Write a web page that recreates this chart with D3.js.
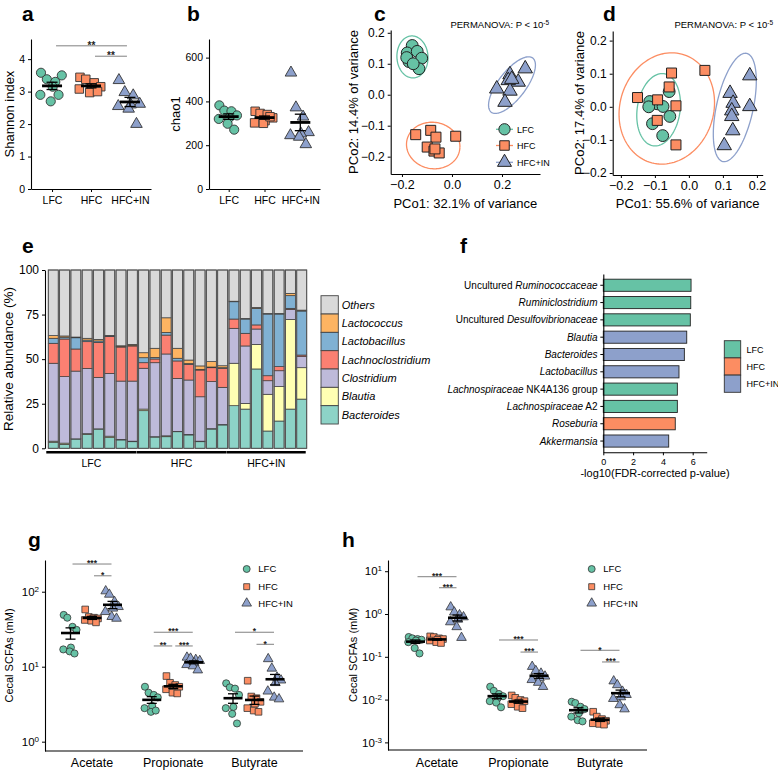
<!DOCTYPE html>
<html>
<head>
<meta charset="utf-8">
<script src="https://cdn.jsdelivr.net/npm/d3@7"></script>
<style>
  body { margin: 0; background: #fff; }
  svg text { font-family: "Liberation Sans", Arial, Helvetica, sans-serif; }
</style>
</head>
<body>
<svg id="fig" width="778" height="771" xmlns="http://www.w3.org/2000/svg"></svg>
<script>
// ================= DATA =================
const groups = ["LFC", "HFC", "HFC+IN"];
const groupColors = ["#66c2a5", "#fc8d62", "#8da0cb"];

// a: Shannon index
const shannonLFC   = [3.58, 3.38, 3.30, 3.50, 3.15, 2.90, 2.70, 2.90];
const shannonHFC   = [3.44, 3.38, 3.27, 3.15, 3.12, 3.08, 2.97, 3.00];
const shannonHFCIN = [3.35, 2.98, 2.88, 2.62, 2.60, 2.55, 2.47, 2.00];
const shannonTicks = [0, 1, 2, 3, 4];
const shannonSig = [{from: 0, to: 2, y: 4.41, label: "**"}, {from: 1, to: 2, y: 4.09, label: "**"}];

// b: chao1
const chao1LFC   = [382, 358, 355, 336, 325, 320, 298, 271];
const chao1HFC   = [355, 345, 340, 325, 312, 302, 300, 330];
const chao1HFCIN = [531, 372, 330, 259, 253, 245, 238, 204];
const chao1Ticks = [0, 200, 400, 600];

// c: PCoA (PCo1, PCo2)
const pcoaC_LFC   = [[-0.159, 0.159], [-0.179, 0.135], [-0.139, 0.140], [-0.172, 0.107], [-0.121, 0.118], [-0.132, 0.084], [-0.181, 0.120], [-0.155, 0.100]];
const pcoaC_HFC   = [[-0.145, -0.129], [-0.085, -0.115], [-0.064, -0.137], [0.015, -0.134], [-0.099, -0.169], [-0.072, -0.182], [-0.051, -0.188], [-0.068, -0.175]];
const pcoaC_HFCIN = [[0.232, 0.065], [0.293, 0.084], [0.265, 0.041], [0.225, 0.046], [0.179, 0.019], [0.232, 0.012], [0.212, -0.024], [0.239, 0.050]];
// ellipses: [centre x, centre y, semi-axis a, semi-axis b, angle deg]
const ellipseC = [[-0.158, 0.122, 0.068, 0.062, 100], [-0.075, -0.164, 0.107, 0.075, -4], [0.240, 0.031, 0.121, 0.050, 44]];

// d: PCoA
const pcoaD_LFC   = [[-0.115, 0.016], [-0.058, 0.046], [-0.093, 0.009], [-0.076, 0.001], [-0.107, -0.051], [-0.056, -0.029], [-0.077, -0.087], [-0.118, 0.000]];
const pcoaD_HFC   = [[-0.051, 0.102], [0.047, 0.110], [-0.151, 0.028], [-0.092, 0.021], [-0.058, 0.060], [-0.038, 0.003], [-0.093, -0.041], [-0.038, -0.115]];
const pcoaD_HFCIN = [[0.179, 0.094], [0.179, 0.001], [0.121, 0.041], [0.130, 0.011], [0.126, -0.012], [0.126, -0.029], [0.129, -0.072], [0.104, -0.117]];
const ellipseD = [[-0.089, -0.009, 0.110, 0.063, 82], [-0.065, -0.005, 0.170, 0.138, 75], [0.135, -0.002, 0.167, 0.054, 78]];
const pcoaTicksC_x = [-0.2, 0.0, 0.2];
const pcoaTicks = [-0.2, -0.1, 0.0, 0.1, 0.2];

// e: relative abundance (%) per sample
const eGenera = ["Bacteroides", "Blautia", "Clostridium", "Lachnoclostridium", "Lactobacillus", "Lactococcus", "Others"];
const eColors = ["#8dd3c7", "#ffffb3", "#bebada", "#fb8072", "#80b1d3", "#fdb462", "#d9d9d9"];
const eSampleGroup = ["LFC","LFC","LFC","LFC","LFC","LFC","LFC","LFC",
                      "HFC","HFC","HFC","HFC","HFC","HFC","HFC","HFC",
                      "HFC+IN","HFC+IN","HFC+IN","HFC+IN","HFC+IN","HFC+IN","HFC+IN"];
const eBacteroides       = [3.4, 2.2, 5.2, 7.8, 10.8, 6.0, 4.7, 3.7,  21.1, 6.3, 6.5, 9.3, 7.5, 3.7, 10.8, 13.1,  23.9, 22.0, 44.5, 9.7, 15.3, 22.0, 27.6];
const eBlautia           = [0.6, 0.7, 0.1, 0.4, 0.1, 0.8, 0.3, 0.3,  0.9, 0.2, 0.5, 0.2, 0.3, 0.3, 0.2, 0.2,  23.8, 3.2, 13.8, 20.6, 19.3, 50.3, 17.6];
const eClostridium       = [43.7, 37.3, 38.0, 36.6, 28.9, 35.2, 32.7, 33.7,  22.9, 41.5, 45.9, 29.7, 30.5, 24.9, 26.4, 20.9,  19.6, 32.2, 8.6, 7.6, 8.9, 5.6, 6.2];
const eLachnoclostridium = [11.2, 21.1, 12.4, 15.0, 19.6, 20.8, 19.1, 19.7,  3.1, 2.1, 10.6, 9.8, 8.8, 15.0, 7.8, 10.7,  5.2, 7.1, 2.3, 2.8, 2.3, 0.6, 0.9];
const eLactobacillus     = [2.8, 1.0, 6.3, 0.9, 0.8, 0.2, 0.2, 0.2,  2.8, 0.9, 1.5, 1.5, 0.4, 0.4, 0.4, 0.3,  9.7, 8.0, 9.3, 34.6, 29.5, 7.1, 24.7];
const eLactococcus       = [1.5, 0.7, 0.4, 1.0, 0.9, 0.3, 0.5, 0.7,  2.8, 5.1, 8.2, 5.6, 2.0, 1.9, 3.0, 1.1,  0.3, 0.3, 0.5, 0.3, 0.3, 1.3, 0.5];
const eOthers            = [36.8, 37.0, 37.6, 38.3, 38.9, 36.7, 42.5, 41.7,  46.4, 43.9, 26.8, 43.9, 50.5, 53.8, 51.4, 53.7,  17.5, 27.2, 21.0, 24.4, 24.4, 13.1, 22.5];
const eTicks = [0, 25, 50, 75, 100];

// f: LEfSe-like bars
const fLabels = [
  [["Uncultured ", false], ["Ruminococcaceae", true]],
  [["Ruminiclostridium", true]],
  [["Uncultured ", false], ["Desulfovibrionaceae", true]],
  [["Blautia", true]],
  [["Bacteroides", true]],
  [["Lactobacillus", true]],
  [["Lachnospiraceae", true], [" NK4A136 group", false]],
  [["Lachnospiraceae", true], [" A2", false]],
  [["Roseburia", true]],
  [["Akkermansia", true]]
];
const fValues = [5.89, 5.87, 5.84, 5.60, 5.44, 5.08, 4.97, 4.97, 4.83, 4.39];
const fGroup = ["LFC", "LFC", "LFC", "HFC+IN", "HFC+IN", "HFC+IN", "LFC", "LFC", "HFC", "HFC+IN"];
const fTicks = [0, 2, 4, 6];

// g/h: SCFAs
const scfaCats = ["Acetate", "Propionate", "Butyrate"];
const gLFC = [[49, 45, 34, 31, 18, 17, 16, 15], [5.4, 4.5, 4.2, 3.9, 3.0, 2.8, 2.5, 2.6], [6.0, 5.3, 5.1, 4.2, 2.9, 2.8, 2.35, 1.75]];
const gHFC = [[58, 46, 45, 44, 43, 42, 41, 39], [7.5, 6.1, 5.7, 5.4, 5.2, 5.0, 4.5, 4.4], [6.5, 4.0, 3.8, 3.4, 3.2, 2.8, 2.6, 2.5]];
const gHFCIN = [[102, 92, 73.6, 63, 60, 54, 46.4, 44], [13.3, 12.9, 12.4, 12.0, 11.2, 10.6, 10.2, 9.0], [12.7, 9.5, 7.2, 6.6, 6.1, 4.7, 3.9, 3.7]];
const gTicks = [1, 10, 100];
const gSig = [
  {cat: 0, from: 0, to: 2, y: 234, label: "***"}, {cat: 0, from: 1, to: 2, y: 163, label: "*"},
  {cat: 1, from: 0, to: 2, y: 28.8, label: "***"}, {cat: 1, from: 0, to: 1, y: 18.9, label: "**"}, {cat: 1, from: 1, to: 2, y: 18.9, label: "***"},
  {cat: 2, from: 0, to: 2, y: 28.8, label: "*"}, {cat: 2, from: 1, to: 2, y: 19.9, label: "*"}
];
const hLFC = [[0.29, 0.27, 0.26, 0.25, 0.24, 0.22, 0.16, 0.12], [0.020, 0.016, 0.0135, 0.012, 0.0105, 0.0092, 0.0085, 0.0066], [0.0089, 0.0083, 0.0068, 0.006, 0.0048, 0.004, 0.0033, 0.0031]];
const hHFC = [[0.30, 0.29, 0.27, 0.26, 0.25, 0.24, 0.22, 0.21], [0.0125, 0.011, 0.0098, 0.0092, 0.0085, 0.0078, 0.0068, 0.0063], [0.0052, 0.0040, 0.0035, 0.0032, 0.0031, 0.0028, 0.0027, 0.0026]];
const hHFCIN = [[1.45, 1.1, 0.95, 0.85, 0.75, 0.65, 0.5, 0.28], [0.059, 0.047, 0.041, 0.035, 0.032, 0.029, 0.025, 0.020], [0.027, 0.022, 0.0155, 0.013, 0.0115, 0.0105, 0.0075, 0.006]];
const hTicks = [0.001, 0.01, 0.1, 1, 10];
const hSig = [
  {cat: 0, from: 0, to: 2, y: 7.44, label: "***"}, {cat: 0, from: 1, to: 2, y: 4.11, label: "***"},
  {cat: 1, from: 0, to: 2, y: 0.247, label: "***"}, {cat: 1, from: 1, to: 2, y: 0.129, label: "***"},
  {cat: 2, from: 0, to: 2, y: 0.142, label: "*"}, {cat: 2, from: 1, to: 2, y: 0.0757, label: "***"}
];

// fixed horizontal jitter pattern (fraction of half-width)
const jitter = [-0.85, -0.4, 0.25, 0.75, 0.05, -0.9, -0.1, 0.5];

// ================= DRAW =================
const FONT = '"Liberation Sans", Arial, Helvetica, sans-serif';
const svg = d3.select("#fig");
svg.append("rect").attr("width", 778).attr("height", 771).attr("fill", "#fff");
const shapes = [d3.symbolCircle, d3.symbolSquare, d3.symbolTriangle];

function styleAxis(sel, fs) {
  sel.attr("font-family", FONT).attr("font-size", fs);
  sel.select(".domain").attr("stroke", "#000").attr("stroke-width", 1.1);
  sel.selectAll(".tick line").attr("stroke", "#000").attr("stroke-width", 1);
  sel.selectAll(".tick text").attr("fill", "#000");
}
function sym(parent, gi, size, x, y, stroke, sw) {
  parent.append("path")
    .attr("d", d3.symbol().type(shapes[gi]).size(size)())
    .attr("transform", `translate(${x},${y})`)
    .attr("fill", groupColors[gi]).attr("stroke", stroke || "#333").attr("stroke-width", sw || 0.9);
}
function drawMeanSem(cx, y, v, halfMean, halfCap, meanW) {
  const m = d3.mean(v), se = d3.deviation(v) / Math.sqrt(v.length);
  svg.append("line").attr("x1", cx).attr("x2", cx).attr("y1", y(m - se)).attr("y2", y(m + se)).attr("stroke", "#000").attr("stroke-width", 1.3);
  [m - se, m + se].forEach(val => svg.append("line").attr("x1", cx - halfCap).attr("x2", cx + halfCap)
    .attr("y1", y(val)).attr("y2", y(val)).attr("stroke", "#000").attr("stroke-width", 1.3));
  svg.append("line").attr("x1", cx - halfMean).attr("x2", cx + halfMean).attr("y1", y(m)).attr("y2", y(m))
    .attr("stroke", "#000").attr("stroke-width", meanW);
}
function sigBar(x1, x2, yy, label, fs) {
  svg.append("line").attr("x1", x1).attr("x2", x2).attr("y1", yy).attr("y2", yy).attr("stroke", "#808080").attr("stroke-width", 1);
  svg.append("text").attr("x", (x1 + x2) / 2).attr("y", yy + fs * 0.57 - 2.6).attr("text-anchor", "middle")
    .attr("font-size", fs).attr("font-weight", "bold").attr("fill", "#222").text(label);
}
function panelLetter(t, x, y) {
  svg.append("text").attr("x", x).attr("y", y).attr("font-size", 21).attr("font-weight", "bold").attr("fill", "#000").text(t);
}
function rotLabel(t, x, y, fs) {
  svg.append("text").attr("transform", `translate(${x},${y}) rotate(-90)`).attr("text-anchor", "middle")
    .attr("font-size", fs).attr("fill", "#000").text(t);
}
function hLabel(t, x, y, fs) {
  svg.append("text").attr("x", x).attr("y", y).attr("text-anchor", "middle").attr("font-size", fs).attr("fill", "#000").text(t);
}

// ---------- panels a, b ----------
function dotPanel(cfg) {
  const x = d3.scalePoint().domain(groups).range(cfg.xRange).padding(cfg.pad);
  const y = d3.scaleLinear().domain(cfg.yDomain).range(cfg.yRange);
  const ay = svg.append("g").attr("transform", `translate(${cfg.xRange[0]},0)`)
    .call(d3.axisLeft(y).tickValues(cfg.ticks).tickFormat(d3.format("d")).tickSize(3).tickSizeOuter(0));
  styleAxis(ay, 10.5);
  const ax = svg.append("g").attr("transform", `translate(0,${cfg.yRange[0]})`)
    .call(d3.axisBottom(x).tickSize(3).tickSizeOuter(0));
  styleAxis(ax, 10.5);
  ax.selectAll(".tick text").attr("dy", "0.85em");
  cfg.series.forEach((vals, gi) => {
    const cx = x(groups[gi]);
    vals.forEach((v, i) => sym(svg, gi, cfg.sizes[gi], cx + jitter[i] * cfg.jw, y(v)));
    drawMeanSem(cx, y, vals, 10, 5.5, 2.8);
  });
  (cfg.sig || []).forEach(s => sigBar(x(groups[s.from]) + 4, x(groups[s.to]) - 3, y(s.y), s.label, 10));
  rotLabel(cfg.ylabel, cfg.ylabX, (cfg.yRange[0] + cfg.yRange[1]) / 2, 13);
}
dotPanel({series: [shannonLFC, shannonHFC, shannonHFCIN], xRange: [31, 151], pad: 0.54, yDomain: [0, 4.62], yRange: [189, 39],
  ticks: shannonTicks, sizes: [66, 72, 58], jw: 13, sig: shannonSig, ylabel: "Shannon index", ylabX: 13.5});
dotPanel({series: [chao1LFC, chao1HFC, chao1HFCIN], xRange: [209, 320], pad: 0.55, yDomain: [0, 685], yRange: [189, 39],
  ticks: chao1Ticks, sizes: [66, 72, 58], jw: 11, ylabel: "chao1", ylabX: 180});
panelLetter("a", 22, 21);
panelLetter("b", 187, 21);

// ---------- panels c, d ----------
function scatterPanel(cfg) {
  const x = d3.scaleLinear().domain(cfg.xDom).range(cfg.xRange);
  const y = d3.scaleLinear().domain(cfg.yDom).range(cfg.yRange);
  cfg.ellipses.forEach((e, gi) => {
    const [cx, cy, a, b, th] = e; const t = th * Math.PI / 180;
    const pts = d3.range(0, 361, 3).map(deg => {
      const u = deg * Math.PI / 180;
      return [x(cx + a * Math.cos(u) * Math.cos(t) - b * Math.sin(u) * Math.sin(t)),
              y(cy + a * Math.cos(u) * Math.sin(t) + b * Math.sin(u) * Math.cos(t))];
    });
    svg.append("path").attr("d", d3.line()(pts)).attr("fill", "none").attr("stroke", groupColors[gi]).attr("stroke-width", 1.3);
  });
  cfg.points.forEach((arr, gi) => arr.forEach(p => sym(svg, gi, cfg.sizes[gi], x(p[0]), y(p[1]), "#222", 1)));
  const ax = svg.append("g").attr("transform", `translate(0,${cfg.yRange[0]})`)
    .call(d3.axisBottom(x).tickValues(cfg.xTicks).tickFormat(d3.format(".1f")).tickSize(3).tickSizeOuter(0));
  styleAxis(ax, 12.5);
  const ay = svg.append("g").attr("transform", `translate(${cfg.xRange[0]},0)`)
    .call(d3.axisLeft(y).tickValues(cfg.yTicks).tickFormat(d3.format(".1f")).tickSize(3).tickSizeOuter(0));
  styleAxis(ay, 12);
  hLabel(cfg.xlabel, (cfg.xRange[0] + cfg.xRange[1]) / 2, 208, 13);
  rotLabel(cfg.ylabel, cfg.ylabX, (cfg.yRange[0] + cfg.yRange[1]) / 2, 13);
  const tt = svg.append("text").attr("x", cfg.titleX).attr("y", 28).attr("text-anchor", "end").attr("font-size", 9.5).attr("fill", "#000");
  tt.append("tspan").text("PERMANOVA: P < 10");
  tt.append("tspan").attr("dy", "-0.45em").attr("font-size", 6.5).text("-5");
}
scatterPanel({points: [pcoaC_LFC, pcoaC_HFC, pcoaC_HFCIN], ellipses: ellipseC,
  xDom: [-0.245, 0.352], xRange: [390.7, 540], yDom: [-0.256, 0.209], yRange: [174, 30],
  xTicks: pcoaTicksC_x, yTicks: pcoaTicks, sizes: [110, 100, 90],
  xlabel: "PCo1: 32.1% of variance", ylabel: "PCo2: 14.4% of variance", ylabX: 358, titleX: 549});
scatterPanel({points: [pcoaD_LFC, pcoaD_HFC, pcoaD_HFCIN], ellipses: ellipseD,
  xDom: [-0.224, 0.217], xRange: [612.7, 762.7], yDom: [-0.206, 0.229], yRange: [175, 31],
  xTicks: pcoaTicks, yTicks: pcoaTicks, sizes: [110, 100, 90],
  xlabel: "PCo1: 55.6% of variance", ylabel: "PCo2: 17.4% of variance", ylabX: 583.5, titleX: 773});
panelLetter("c", 374, 21);
panelLetter("d", 603, 21);
// legend c
groups.forEach((gname, gi) => {
  const ly = [129.3, 145.5, 162.3][gi];
  svg.append("line").attr("x1", 496).attr("x2", 513).attr("y1", ly).attr("y2", ly).attr("stroke", groupColors[gi]).attr("stroke-width", 1.3);
  sym(svg, gi, [100, 90, 85][gi], 504.5, ly, "#222", 1);
  svg.append("text").attr("x", 517).attr("y", ly + 3.2).attr("font-size", 9).attr("fill", "#000").text(gname);
});

// ---------- panel e ----------
(function () {
  const eSeries = [eBacteroides, eBlautia, eClostridium, eLachnoclostridium, eLactobacillus, eLactococcus, eOthers];
  const ids = d3.range(eBacteroides.length);
  const table = ids.map(i => { const r = {id: i}; eGenera.forEach((k, j) => r[k] = eSeries[j][i]); return r; });
  const stack = d3.stack().keys(eGenera)(table);
  const x = d3.scaleBand().domain(ids).range([45, 310]).paddingInner(0.114).paddingOuter(0.29);
  const y = d3.scaleLinear().domain([0, 100]).range([448.3, 270]);
  const color = d3.scaleOrdinal().domain(eGenera).range(eColors);
  stack.forEach(layer => {
    svg.append("g").selectAll("rect").data(layer).join("rect")
      .attr("x", d => x(d.data.id)).attr("width", x.bandwidth())
      .attr("y", d => y(d[1])).attr("height", d => y(d[0]) - y(d[1]))
      .attr("fill", color(layer.key)).attr("stroke", "#3a3a3a").attr("stroke-width", 0.7);
  });
  ids.forEach(i => svg.append("rect").attr("x", x(i)).attr("y", y(100)).attr("width", x.bandwidth()).attr("height", y(0) - y(100))
    .attr("fill", "none").attr("stroke", "#555").attr("stroke-width", 0.9));
  const ay = svg.append("g").attr("transform", "translate(45,0)")
    .call(d3.axisLeft(y).tickValues(eTicks).tickSize(3).tickSizeOuter(0));
  styleAxis(ay, 12);
  groups.forEach(gname => {
    const idx = ids.filter(i => eSampleGroup[i] === gname);
    const x1 = x(idx[0]) - 2, x2 = x(idx[idx.length - 1]) + x.bandwidth() - 1;
    svg.append("line").attr("x1", x1).attr("x2", x2).attr("y1", 452.3).attr("y2", 452.3).attr("stroke", "#000").attr("stroke-width", 2.6);
    hLabel(gname, (x1 + x2) / 2, 467, 10.5);
  });
  rotLabel("Relative abundance (%)", 13, 359, 13.5);
  // legend
  eGenera.slice().reverse().forEach((k, i) => {
    const top = 295.7 + i * 18.33;
    svg.append("rect").attr("x", 321).attr("y", top).attr("width", 17.3).attr("height", 18.33)
      .attr("fill", color(k)).attr("stroke", "#444").attr("stroke-width", 0.9);
    svg.append("text").attr("x", 341.7).attr("y", top + 13).attr("font-size", 11).attr("font-style", "italic").attr("fill", "#000").text(k);
  });
  panelLetter("e", 22, 253);
})();

// ---------- panel f ----------
(function () {
  const y = d3.scaleBand().domain(d3.range(fValues.length)).range([274, 452.3]).paddingInner(0.3).paddingOuter(0.3);
  const x = d3.scaleLinear().domain([0, 6.94]).range([603.3, 706.7]);
  const col = d3.scaleOrdinal().domain(groups).range(groupColors);
  svg.append("g").selectAll("rect").data(fValues).join("rect")
    .attr("x", x(0)).attr("y", (d, i) => y(i)).attr("width", d => x(d) - x(0)).attr("height", y.bandwidth())
    .attr("fill", (d, i) => col(fGroup[i])).attr("stroke", "#222").attr("stroke-width", 0.9);
  const ay = svg.append("g").attr("transform", `translate(${x(0)},0)`)
    .call(d3.axisLeft(y).tickFormat(() => "").tickSize(3).tickSizeOuter(0));
  styleAxis(ay, 10);
  fLabels.forEach((parts, i) => {
    const t = svg.append("text").attr("x", 597.5).attr("y", y(i) + y.bandwidth() / 2 + 3.6).attr("text-anchor", "end")
      .attr("font-size", 10).attr("fill", "#000").attr("xml:space", "preserve").style("white-space", "pre");
    parts.forEach(p => t.append("tspan").attr("font-style", p[1] ? "italic" : "normal").text(p[0]));
  });
  const ax = svg.append("g").attr("transform", "translate(0,452.3)")
    .call(d3.axisBottom(x).tickValues(fTicks).tickFormat(d3.format("d")).tickSize(3).tickSizeOuter(0));
  styleAxis(ax, 9);
  hLabel("-log10(FDR-corrected p-value)", 655, 477, 11);
  groups.forEach((gname, gi) => {
    const top = 340.7 + gi * 17.2;
    svg.append("rect").attr("x", 724.3).attr("y", top).attr("width", 16.4).attr("height", 17.2)
      .attr("fill", groupColors[gi]).attr("stroke", "#333").attr("stroke-width", 0.9);
    svg.append("text").attr("x", 746.5).attr("y", top + 11.8).attr("font-size", 9).attr("fill", "#000").text(gname);
  });
  panelLetter("f", 460, 253);
})();

// ---------- panels g, h ----------
function scfaPanel(cfg) {
  const xc = d3.scalePoint().domain(scfaCats).range(cfg.catRange);
  const y = d3.scaleLog().domain(cfg.yDom).range(cfg.yRange);
  const dodge = [-21.5, 0, 20.5];
  const series = cfg.series;
  series.forEach((grp, gi) => grp.forEach((vals, ci) => {
    const cx = xc(scfaCats[ci]) + dodge[gi];
    vals.forEach((v, i) => sym(svg, gi, [40, 44, 40][gi], cx + jitter[i] * 8, y(v), "#333", 0.8));
  }));
  series.forEach((grp, gi) => grp.forEach((vals, ci) => {
    drawMeanSem(xc(scfaCats[ci]) + dodge[gi], y, vals, 9.5, 5, 2.6);
  }));
  cfg.sig.forEach(s => {
    const base = xc(scfaCats[s.cat]);
    sigBar(base + dodge[s.from] + 2, base + dodge[s.to] - 1, y(s.y), s.label, 8.5);
  });
  const ay = svg.append("g").attr("transform", `translate(${cfg.axisX[0]},0)`)
    .call(d3.axisLeft(y).tickValues(cfg.ticks).tickSize(3).tickSizeOuter(0));
  styleAxis(ay, 11.5);
  ay.selectAll(".tick text").each(function (d) {
    const t = d3.select(this); t.text(null);
    t.append("tspan").text("10");
    t.append("tspan").attr("dy", "-0.5em").attr("font-size", 8).text(String(Math.round(Math.log10(d))));
  });
  svg.append("line").attr("x1", cfg.axisX[0]).attr("x2", cfg.axisX[1]).attr("y1", cfg.yRange[0]).attr("y2", cfg.yRange[0])
    .attr("stroke", "#000").attr("stroke-width", 1.1);
  scfaCats.forEach(c => hLabel(c, xc(c), 767, 12.5));
  rotLabel("Cecal SCFAs (mM)", cfg.ylabX, (cfg.yRange[0] + cfg.yRange[1]) / 2, 11);
  groups.forEach((gname, gi) => {
    const ly = [569, 586.7, 603.3][gi];
    sym(svg, gi, [38, 36, 40][gi], cfg.legX, ly, "#333", 0.8);
    svg.append("text").attr("x", cfg.legX + 11.6).attr("y", ly + 3.4).attr("font-size", 9.5).attr("fill", "#000").text(gname);
  });
}
scfaPanel({series: [gLFC, gHFC, gHFCIN], catRange: [92, 254.5], yDom: [0.751, 264.8], yRange: [751, 560],
  axisX: [45, 303], ticks: gTicks, sig: gSig, ylabX: 13, legX: 246.7});
scfaPanel({series: [hLFC, hHFC, hHFCIN], catRange: [437, 600], yDom: [Math.pow(10, -3.178), Math.pow(10, 1.262)], yRange: [750, 560],
  axisX: [388, 647], ticks: hTicks, sig: hSig, ylabX: 357, legX: 591.7});
panelLetter("g", 28, 547);
panelLetter("h", 342, 547);
</script>
</body>
</html>
